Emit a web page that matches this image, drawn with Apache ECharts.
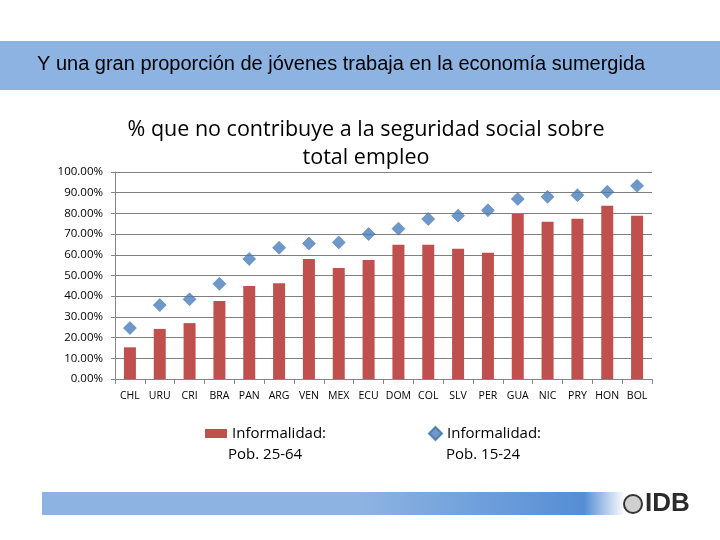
<!DOCTYPE html>
<html><head><meta charset="utf-8">
<script src="https://cdn.jsdelivr.net/npm/echarts@6/dist/echarts.min.js"></script>
<style>html,body{margin:0;padding:0;background:#fff}#c{width:720px;height:540px}</style>
</head><body><div id="c"></div>
<script>
const categories = ['CHL','URU','CRI','BRA','PAN','ARG','VEN','MEX','ECU','DOM','COL','SLV','PER','GUA','NIC','PRY','HON','BOL'];
const informalidad2564 = [15.3,24.2,27.0,37.7,44.9,46.3,58.0,53.6,57.5,64.9,64.9,62.9,61.0,79.7,76.0,77.4,83.7,78.9];
const informalidad1524 = [24.6,35.7,38.5,46.0,58.0,63.4,65.4,66.0,70.0,72.6,77.3,78.9,81.5,87.0,88.0,88.8,90.4,93.3];
const yTicks = [0,10,20,30,40,50,60,70,80,90,100];
const seriesNames = ['Pob. 25-64','Pob. 15-24'];

const chart = echarts.init(document.getElementById('c'), null, {renderer:'canvas'});
const sans = '"Open Sans", Lato, sans-serif';
chart.setOption({
  backgroundColor:'#ffffff',
  animation:false,
  title:{
    text:'% que no contribuye a la seguridad social sobre\ntotal empleo',
    left:361, top:111, textAlign:'center',
    textStyle:{fontFamily:sans, fontSize:21.5, fontWeight:'normal', color:'#000', lineHeight:28}
  },
  legend:[
    {data:[seriesNames[0]], left:200, top:421, itemWidth:22, itemHeight:9, icon:'rect',
     formatter:()=> 'Informalidad:', textStyle:{fontFamily:sans, fontSize:15, color:'#000'}},
    {data:[seriesNames[1]], left:423, top:421, itemWidth:13, itemHeight:13, icon:'diamond',
     formatter:()=> 'Informalidad:', textStyle:{fontFamily:sans, fontSize:15, color:'#000'}}
  ],
  grid:{left:115, right:68, top:172, bottom:161},
  xAxis:{type:'category', data:categories, boundaryGap:true,
    axisLine:{lineStyle:{color:'#868686', width:1}},
    axisTick:{show:true, length:5, lineStyle:{color:'#868686'}},
    axisLabel:{interval:0, margin:12, fontFamily:sans, fontSize:10.5, color:'#000'}
  },
  yAxis:{type:'value', min:0, max:100, interval:10,
    axisLine:{show:true, lineStyle:{color:'#868686', width:1}},
    axisTick:{show:true, length:4, lineStyle:{color:'#868686'}},
    splitLine:{lineStyle:{color:'#7f7f7f', width:1.2}},
    axisLabel:{margin:12, fontFamily:sans, fontSize:11.5, color:'#000',
      formatter:v=> v.toFixed(2)+'%'}
  },
  series:[
    {name:seriesNames[0], type:'bar', data:informalidad2564, barWidth:12,
     itemStyle:{color:'#C0504D'}},
    {name:seriesNames[1], type:'scatter', data:informalidad1524, symbol:'diamond', symbolSize:13,
     itemStyle:{color:'#4A7EBB', borderColor:'#3f6fa8', borderWidth:0.6}}
  ],
  graphic:[
    {type:'rect', shape:{x:0,y:41,width:720,height:49}, style:{fill:'#8DB3E2'}, z:-1},
    {type:'text', left:37, top:54, style:{text:'Y una gran proporción de jóvenes trabaja en la economía sumergida',
      fontFamily:'"Liberation Sans", Arial, sans-serif', fontSize:20, fill:'#000'}},
    {type:'text', left:228, top:447, style:{text:'Pob. 25-64', fontFamily:sans, fontSize:15, fill:'#000'}},
    {type:'text', left:446, top:447, style:{text:'Pob. 15-24', fontFamily:sans, fontSize:15, fill:'#000'}},
    {type:'rect', shape:{x:42,y:492,width:583,height:23}, style:{fill:new echarts.graphic.LinearGradient(0,0,1,0,[
      {offset:0,color:'#8DB3E2'},{offset:0.55,color:'#8DB3E2'},{offset:0.93,color:'#558ED5'},{offset:1,color:'#ffffff'}])}},
    {type:'circle', shape:{cx:633,cy:504,r:9}, style:{fill:'#d0d0d0', stroke:'#333', lineWidth:2}},
    {type:'text', left:645, top:491, style:{text:'IDB', fontFamily:'"Liberation Sans", Arial, sans-serif', fontWeight:'bold', fontSize:26, fill:'#2b2b2b'}}
  ]
});
</script></body></html>
